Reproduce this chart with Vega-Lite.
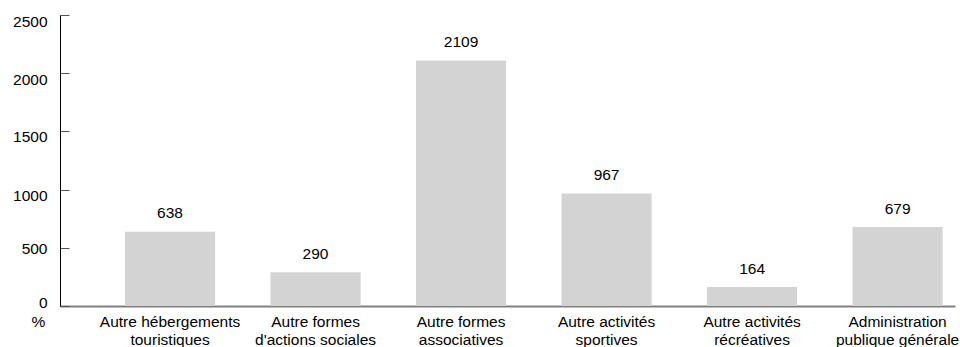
{
  "$schema": "https://vega.github.io/schema/vega-lite/v6.json",
  "width": 895,
  "height": 291,
  "autosize": "none",
  "padding": {"left": 60, "top": 15, "right": 5, "bottom": 41},
  "background": "white",
  "config": {
    "view": {"stroke": null},
    "font": "Liberation Sans",
    "axis": {"grid": false}
  },
  "data": {
    "values": [
      {"secteur": "Autre hébergements\ntouristiques", "valeur": 638},
      {"secteur": "Autre formes\nd'actions sociales", "valeur": 290},
      {"secteur": "Autre formes\nassociatives", "valeur": 2109},
      {"secteur": "Autre activités\nsportives", "valeur": 967},
      {"secteur": "Autre activités\nrécréatives", "valeur": 164},
      {"secteur": "Administration\npublique générale", "valeur": 679}
    ]
  },
  "encoding": {
    "x": {
      "field": "secteur",
      "type": "nominal",
      "sort": null,
      "scale": {"paddingInner": 0.381, "paddingOuter": 0.266, "align": 0.84},
      "axis": {
        "title": null,
        "labelAngle": 0,
        "ticks": false,
        "domainColor": "#808080",
        "domainWidth": 2,
        "labelFontSize": 15.5,
        "labelColor": "#000000",
        "labelPadding": 8,
        "labelLineHeight": 18.5,
        "labelBaseline": "top",
        "labelLimit": 0,
        "labelOverlap": false,
        "labelExpr": "split(datum.label, '\\n')"
      }
    },
    "y": {
      "field": "valeur",
      "type": "quantitative",
      "scale": {"domain": [0, 2500], "nice": false},
      "axis": {
        "title": "%",
        "titleAngle": 0,
        "titleX": -22,
        "titleY": 306,
        "titleAlign": "center",
        "titleBaseline": "middle",
        "titleFontSize": 15.5,
        "titleFontWeight": "normal",
        "titleColor": "#000000",
        "values": [0, 500, 1000, 1500, 2000, 2500],
        "format": "d",
        "tickSize": -9,
        "tickColor": "#555555",
        "domainColor": "#000000",
        "labelFontSize": 15.5,
        "labelColor": "#000000",
        "labelPadding": 22,
        "labelBaseline": "middle",
        "labelOffset": {
          "condition": [
            {"test": "datum.value == 2500", "value": 6.5},
            {"test": "datum.value == 2000", "value": 6},
            {"test": "datum.value == 1500", "value": 5.5},
            {"test": "datum.value == 1000", "value": 5.5},
            {"test": "datum.value == 500", "value": 0.5}
          ],
          "value": -3.5
        }
      }
    }
  },
  "layer": [
    {"mark": {"type": "bar", "color": "#d3d3d3"}},
    {
      "mark": {"type": "text", "dy": -13.4, "baseline": "alphabetic", "fontSize": 15.5, "color": "#000000"},
      "encoding": {"text": {"field": "valeur", "type": "quantitative", "format": "d"}}
    }
  ]
}
